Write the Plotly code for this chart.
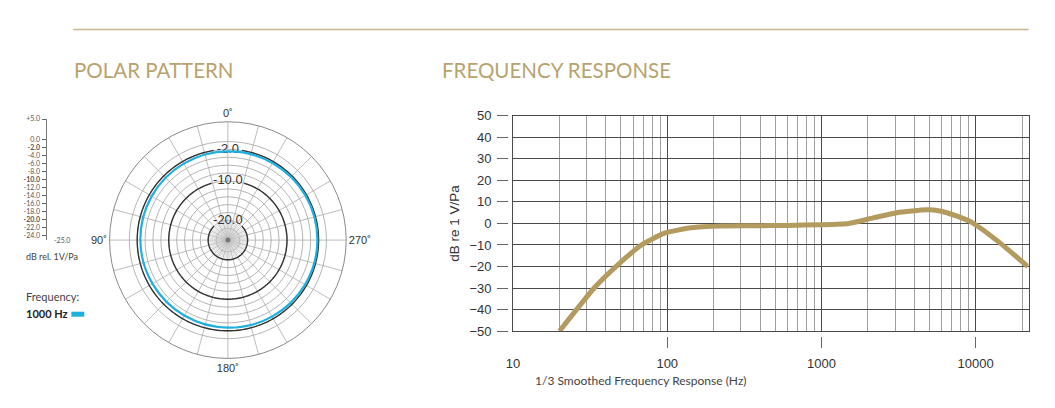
import numpy as np
import plotly.graph_objects as go

# polar pattern at 1000 Hz (dB rel. 1V/Pa)
polar_angles = [0, 30, 60, 90, 120, 150, 180, 210, 240, 270, 300, 330, 360]
polar_db = [-2.5, -2.6, -2.7, -2.8, -2.9, -2.9, -2.8, -2.6, -2.4, -2.3, -2.3, -2.4, -2.5]
ref_levels = [-2.0, -10.0, -20.0]
ref_labels = ["-2.0", "-10.0", "-20.0"]
ring_levels = [0, -2, -4, -6, -8, -10, -12, -14, -16, -18, -20, -22, -24]
scale_ticks = [5, 0, -2, -4, -6, -8, -10, -12, -14, -16, -18, -20, -22, -24]
scale_bold = [-2, -10, -20]

# frequency response (1/3 octave smoothed)
freq_hz = [20, 34, 49, 68, 96, 143, 224, 350, 600, 1000, 1500, 2170, 3080,
           4790, 5860, 7500, 9560, 14300, 21800]
response_db = [-50, -29.5, -18.5, -10, -4.5, -2, -1.2, -1.1, -0.9, -0.6, 0,
               2.6, 5, 6.3, 5.8, 3.5, 0.3, -8.9, -20]
freq_ticks = [10, 100, 1000, 10000]
freq_labels = ["10", "100", "1000", "10000"]
minor_freqs = [20, 30, 40, 50, 60, 70, 80, 90,
               200, 300, 400, 500, 600, 700, 800, 900,
               2000, 3000, 4000, 5000, 6000, 7000, 8000, 9000, 20000]
db_ticks = [50, 40, 30, 20, 10, 0, -10, -20, -30, -40, -50]

W, H = 1039, 392
# where the paper ends up in the final picture (measured)
L, T, PW, PH = 11.5, 15, 1035, 378
GOLD = "#b39b5f"
TITLE_GOLD = "#b8a36f"


def px(x):
    return (x - L) / PW


def py(y):
    return 1 - (y - T) / PH


fig = go.Figure()

# dense spokes round the centre
spoke_r, spoke_t = [], []
for a in range(0, 360, 5):
    if a % 15:
        spoke_r += [-25, -20, None]
        spoke_t += [a, a, None]
fig.add_trace(go.Scatterpolar(r=spoke_r, theta=spoke_t, mode="lines",
                              line=dict(color="#c4c4c4", width=0.6),
                              hoverinfo="skip", showlegend=False))

# dark reference rings, broken where the label sits
half_gap = {-2.0: 9, -10.0: 16, -20.0: 45}
for lev in ref_levels:
    g = half_gap[lev]
    th = np.linspace(g, 360 - g, 240)
    fig.add_trace(go.Scatterpolar(r=[lev] * len(th), theta=th, mode="lines",
                                  line=dict(color="#333333", width=1.4),
                                  hoverinfo="skip", showlegend=False))
fig.add_trace(go.Scatterpolar(r=ref_levels, theta=[0, 0, 0], mode="text",
                              text=ref_labels,
                              textfont=dict(family="Liberation Sans", size=13, color="#333"),
                              hoverinfo="skip", showlegend=False))

fig.add_trace(go.Scatterpolar(r=polar_db, theta=polar_angles, mode="lines",
                              line=dict(color="#1fb0e0", width=2.2, shape="spline"),
                              name="1000 Hz", showlegend=False))
fig.add_trace(go.Scatterpolar(r=[-25], theta=[0], mode="markers",
                              marker=dict(size=5, color="#777"),
                              hoverinfo="skip", showlegend=False))

# frequency response curve
fig.add_trace(go.Scatter(x=freq_hz, y=response_db, mode="lines",
                         line=dict(color=GOLD, width=5, shape="spline", smoothing=0.5),
                         xaxis="x", yaxis="y", showlegend=False))
# invisible copies so the detached tick axes get drawn
fig.add_trace(go.Scatter(x=freq_hz, y=response_db, mode="markers", opacity=0,
                         xaxis="x", yaxis="y2", hoverinfo="skip", showlegend=False))
fig.add_trace(go.Scatter(x=freq_hz, y=response_db, mode="markers", opacity=0,
                         xaxis="x2", yaxis="y5", hoverinfo="skip", showlegend=False))

ang_text = {0: "0˚", 90: "90˚", 180: "180˚", 270: "270˚"}
ang_vals = list(range(0, 360, 15))

scale_text = []
for v in scale_ticks:
    s = "+%.1f" % v if v > 0 else "%.1f" % v
    scale_text.append("<b>%s</b>" % s if v in scale_bold else s)

# polar: centre at (225, 240.7), radius ~123 figure px
cx, cy, rad = px(225), py(240.7), 123
fig.update_layout(
    width=W, height=H,
    margin=dict(l=0, r=0, t=0, b=0),
    paper_bgcolor="white", plot_bgcolor="white",
    font=dict(family="Liberation Sans", color="#333"),
    polar=dict(
        domain=dict(x=[cx - rad / W, cx + rad / W], y=[cy - rad / H, cy + rad / H]),
        bgcolor="white",
        radialaxis=dict(range=[-25, 5], tickvals=ring_levels, showticklabels=False,
                        ticks="", showline=False, gridcolor="#b5b5b5", gridwidth=0.8),
        angularaxis=dict(rotation=90, direction="counterclockwise",
                         tickvals=ang_vals,
                         ticktext=[ang_text.get(a, "") for a in ang_vals],
                         ticks="", showline=True, linecolor="#8a8a8a", linewidth=1,
                         gridcolor="#bdbdbd", gridwidth=0.8,
                         tickfont=dict(family="Liberation Sans", size=11, color="#333")),
    ),
    xaxis=dict(type="log", range=[1, 4.343], domain=[px(511), px(1028)], anchor="y",
               tickvals=freq_ticks, showticklabels=False, ticks="",
               showgrid=True, gridcolor="#4a4a4a", gridwidth=1,
               showline=True, linecolor="#4a4a4a", mirror=True, zeroline=False,
               minor=dict(tickvals=minor_freqs, showgrid=True, gridcolor="#a0a0a0",
                          gridwidth=1, ticks="")),
    yaxis=dict(range=[-50, 50], domain=[py(332), py(116)], anchor="x",
               tickvals=db_ticks, showticklabels=False, ticks="",
               showgrid=True, gridcolor="#4a4a4a", gridwidth=1,
               showline=True, linecolor="#4a4a4a", mirror=True, zeroline=False),
    # frequency labels on a thin strip just under the plot, ticks pointing up
    xaxis2=dict(type="log", range=[1, 4.343], domain=[px(511), px(1028)], anchor="y5",
                tickvals=freq_ticks, ticktext=freq_labels,
                ticks="inside", ticklen=11, tickcolor="#666", tickwidth=1,
                ticklabelstandoff=6,
                tickfont=dict(family="Liberation Sans", size=13, color="#333"),
                showgrid=False, showline=False, zeroline=False),
    yaxis5=dict(domain=[py(349), py(337)], anchor="x2", range=[0, 1],
                showticklabels=False, ticks="", showgrid=False, showline=False,
                zeroline=False),
    yaxis2=dict(range=[-50, 50], overlaying="y", anchor="free", position=px(506),
                side="left", tickvals=db_ticks, ticks="outside", ticklen=11,
                tickcolor="#666", ticklabelstandoff=3,
                tickfont=dict(family="Liberation Sans", size=13, color="#333"),
                showgrid=False, showline=False, zeroline=False),
    xaxis3=dict(domain=[px(44), px(60)], anchor="y3", range=[0, 1], visible=False),
    yaxis3=dict(domain=[py(240.3), py(119.3)], anchor="x3", range=[-25, 5],
                tickvals=scale_ticks, ticktext=scale_text, ticks="outside",
                ticklen=4, tickcolor="#666", showline=True, linecolor="#777",
                linewidth=1, showgrid=False, zeroline=False, ticklabelstandoff=1,
                tickfont=dict(family="Lato", size=7, color="#555")),
    yaxis4=dict(overlaying="y3", anchor="x3", side="left", range=[-25, 5],
                tickvals=[-2, -10, -20, -25], ticks="inside", ticklen=6,
                tickcolor="#555", showticklabels=False, showline=False,
                showgrid=False, zeroline=False),
)

fig.add_annotation(x=px(49), y=-25, xref="paper", yref="y3", text="-25.0",
                   showarrow=False, xanchor="left",
                   font=dict(family="Lato", size=7, color="#555"))
fig.add_annotation(x=px(21), y=py(257), xref="paper", yref="paper", text="dB rel. 1V/Pa",
                   showarrow=False, xanchor="left", yanchor="middle",
                   font=dict(family="Lato", size=9, color="#444"))
fig.add_annotation(x=px(21), y=py(297), xref="paper", yref="paper", text="Frequency:",
                   showarrow=False, xanchor="left", yanchor="middle",
                   font=dict(family="Lato", size=11, color="#444"))
fig.add_annotation(x=px(21), y=py(314), xref="paper", yref="paper", text="<b>1000 Hz</b>",
                   showarrow=False, xanchor="left", yanchor="middle",
                   font=dict(family="Lato", size=11, color="#222"))
fig.add_shape(type="rect", xref="paper", yref="paper",
              x0=px(68), x1=px(81), y0=py(317.5), y1=py(312.5),
              fillcolor="#1fb0e0", line=dict(width=0))

# section titles and rule
fig.add_shape(type="line", xref="paper", yref="paper",
              x0=px(70), x1=px(1028), y0=py(29.5), y1=py(29.5),
              line=dict(color="#c9b68e", width=1.5))
fig.add_annotation(x=px(69), y=py(70), xref="paper", yref="paper", text="POLAR PATTERN",
                   showarrow=False, xanchor="left", yanchor="middle",
                   font=dict(family="Lato", size=20.5, color=TITLE_GOLD))
fig.add_annotation(x=px(438), y=py(70), xref="paper", yref="paper", text="FREQUENCY RESPONSE",
                   showarrow=False, xanchor="left", yanchor="middle",
                   font=dict(family="Lato", size=20.5, color=TITLE_GOLD))

fig.add_annotation(x=px(748), y=py(381), xref="paper", yref="paper",
                   text="1/3 Smoothed Frequency Response (Hz)", showarrow=False,
                   yanchor="middle",
                   font=dict(family="Lato", size=12, color="#444"))
fig.add_annotation(x=px(452), y=py(224), xref="paper", yref="paper",
                   text="dB re 1 V/Pa", showarrow=False, textangle=-90,
                   font=dict(family="Liberation Sans", size=13.5, color="#333"))

fig.write_html("out.html")
